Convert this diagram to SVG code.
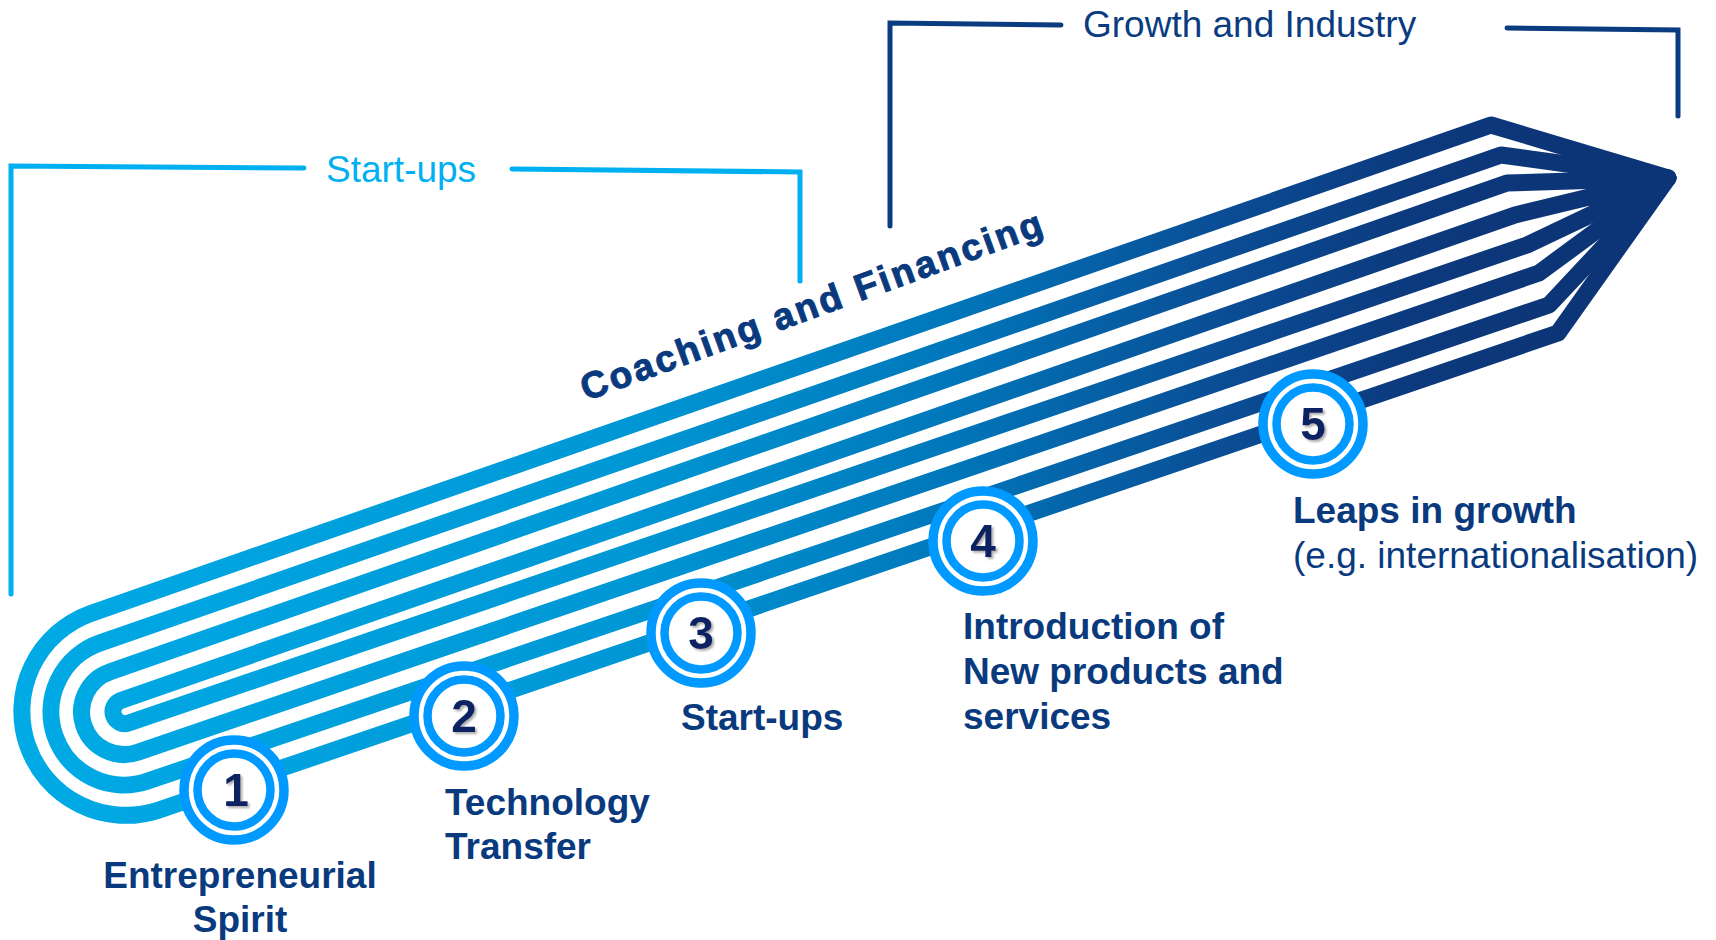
<svg xmlns="http://www.w3.org/2000/svg" width="1716" height="940" viewBox="0 0 1716 940">
<defs>
  <linearGradient id="band" gradientUnits="userSpaceOnUse" x1="0" y1="0" x2="1560" y2="0">
    <stop offset="0" stop-color="#00ABE6"/>
    <stop offset="0.4" stop-color="#0097D5"/>
    <stop offset="0.6" stop-color="#0079BC"/>
    <stop offset="0.78" stop-color="#0A4E96"/>
    <stop offset="0.9" stop-color="#0C3A7E"/>
    <stop offset="1" stop-color="#0C3577"/>
  </linearGradient>
  <filter id="shadow" x="-30%" y="-30%" width="160%" height="160%">
    <feDropShadow dx="2" dy="2" stdDeviation="1.2" flood-color="#777" flood-opacity="0.6"/>
  </filter>
</defs>
<style>
  .strand { fill: none; stroke: url(#band); stroke-width: 17; stroke-linejoin: round; stroke-linecap: round; }
  .ring-o { fill: #fff; stroke: #0099FF; stroke-width: 9.5; }
  .ring-i { fill: #fff; stroke: #0099FF; stroke-width: 8.5; }
  .num { font-family: "Liberation Sans", Arial, sans-serif; font-weight: bold; font-size: 46px; fill: #0D2462; text-anchor: middle; filter: url(#shadow); }
  .lbl { font-family: "Liberation Sans", Arial, sans-serif; font-weight: bold; font-size: 37px; fill: #0A3A7E; }
  .lblr { font-family: "Liberation Sans", Arial, sans-serif; font-size: 37px; fill: #0A3A7E; }
  .br-cyan { fill: none; stroke: #00B0F0; stroke-width: 5; stroke-linejoin: miter; stroke-linecap: round; }
  .br-navy { fill: none; stroke: #0B3C80; stroke-width: 5; stroke-linejoin: miter; stroke-linecap: round; }
  .hdr { font-family: "Liberation Sans", Arial, sans-serif; font-size: 37px; }
  .coach { stroke: #0A3A7E; stroke-width: 1; }
</style>

<g id="connectors">
  <polyline class="br-cyan" points="11,594 11,166 304,168"/>
  <polyline class="br-cyan" points="512,169 800,172 800,281"/>
  <polyline class="br-navy" points="890,226 890,23 1061,25"/>
  <polyline class="br-navy" points="1507,28 1678,30 1678,116"/>
</g>

<g id="arrow">
  <path class="strand" d="M1668,178 L1491,125 L90.1,613.7 A104,104 0 0 0 157.9,810.3 L1558,333 Z"/>
  <path class="strand" d="M1668,178 L1501,155 L100.2,642.9 A73,73 0 0 0 147.8,781.0 L1549,305 Z"/>
  <path class="strand" d="M1668,178 L1507,183 L110.2,671.8 A42.5,42.5 0 0 0 137.8,752.2 L1539,273 Z"/>
  <path class="strand" d="M1668,178 L1515,215 L120.1,700.7 A12,12 0 0 0 127.9,723.3 L1527,245 Z"/>
</g>

<g id="label-coaching">
  <text class="lbl coach" x="586" y="401" font-size="47" letter-spacing="2.8" transform="rotate(-20 586 401)">Coaching and Financing</text>
</g>

<g id="group-startups">
  <text class="hdr" x="326" y="182" fill="#00B0F0">Start-ups</text>
</g>
<g id="group-growth">
  <text class="hdr" x="1083" y="37" fill="#0B3C80">Growth and Industry</text>
</g>

<g id="node-1">
  <circle class="ring-o" cx="234" cy="790" r="50"/>
  <circle class="ring-i" cx="234" cy="790" r="36.5"/>
  <text class="num" x="236" y="806">1</text>
  <text class="lbl" x="240" y="888" text-anchor="middle">Entrepreneurial</text>
  <text class="lbl" x="240" y="932" text-anchor="middle">Spirit</text>
</g>
<g id="node-2">
  <circle class="ring-o" cx="464" cy="716" r="50"/>
  <circle class="ring-i" cx="464" cy="716" r="36.5"/>
  <text class="num" x="464" y="732">2</text>
  <text class="lbl" x="445" y="815">Technology</text>
  <text class="lbl" x="445" y="859">Transfer</text>
</g>
<g id="node-3">
  <circle class="ring-o" cx="701" cy="633" r="50"/>
  <circle class="ring-i" cx="701" cy="633" r="36.5"/>
  <text class="num" x="701" y="649">3</text>
  <text class="lbl" x="681" y="730">Start-ups</text>
</g>
<g id="node-4">
  <circle class="ring-o" cx="983" cy="541" r="50"/>
  <circle class="ring-i" cx="983" cy="541" r="36.5"/>
  <text class="num" x="983" y="557">4</text>
  <text class="lbl" x="963" y="639">Introduction of</text>
  <text class="lbl" x="963" y="684">New products and</text>
  <text class="lbl" x="963" y="729">services</text>
</g>
<g id="node-5">
  <circle class="ring-o" cx="1313" cy="424" r="50"/>
  <circle class="ring-i" cx="1313" cy="424" r="36.5"/>
  <text class="num" x="1313" y="440">5</text>
  <text class="lbl" x="1293" y="523">Leaps in growth</text>
  <text class="lblr" x="1293" y="568">(e.g. internationalisation)</text>
</g>
</svg>
